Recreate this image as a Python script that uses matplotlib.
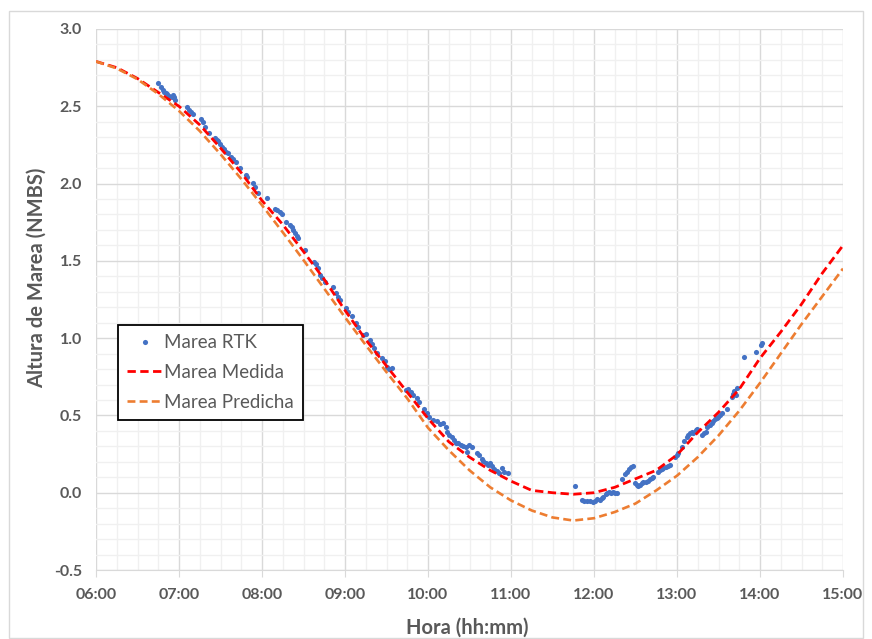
import matplotlib.pyplot as plt
import numpy as np
from matplotlib.patches import Rectangle
from matplotlib.ticker import MultipleLocator, FuncFormatter

plt.rcParams['font.family'] = ['Lato', 'DejaVu Sans']

GRAY = '#595959'

# tide curves, time in decimal hours
hora_curva = [6.0, 6.25, 6.5, 6.75, 7.0, 7.25, 7.5, 7.75, 8.0, 8.25, 8.5, 8.75,
              9.0, 9.25, 9.5, 9.75, 10.0, 10.25, 10.5, 10.75, 11.0, 11.25, 11.5,
              11.75, 12.0, 12.25, 12.5, 12.75, 13.0, 13.25, 13.5, 13.75, 14.0,
              14.25, 14.5, 14.75, 15.0]
marea_medida = [2.79, 2.75, 2.68, 2.59, 2.50, 2.38, 2.23, 2.07, 1.89, 1.735, 1.56, 1.38,
                1.18, 0.99, 0.82, 0.65, 0.48, 0.33, 0.23, 0.145, 0.075, 0.015, 0.0,
                -0.01, 0.0, 0.035, 0.09, 0.145, 0.245, 0.39, 0.52, 0.67, 0.87,
                1.04, 1.22, 1.42, 1.60]
marea_predicha = [2.79, 2.745, 2.675, 2.58, 2.47, 2.34, 2.19, 2.03, 1.86, 1.685, 1.505, 1.32,
                  1.135, 0.955, 0.78, 0.61, 0.42, 0.275, 0.145, 0.035, -0.05, -0.115, -0.16,
                  -0.18, -0.165, -0.125, -0.07, 0.015, 0.11, 0.23, 0.37, 0.53, 0.71,
                  0.90, 1.09, 1.27, 1.45]

# RTK observations
hora_rtk = [6.751, 6.779, 6.803, 6.819, 6.843, 6.859, 6.883, 6.912, 6.931, 6.943, 6.952,
            7.100, 7.124, 7.141, 7.165, 7.265, 7.285, 7.317, 7.365, 7.434, 7.454, 7.473,
            7.494, 7.514, 7.542, 7.566, 7.594, 7.623, 7.654, 7.687, 7.735, 7.807, 7.823,
            7.895, 7.916, 7.956, 8.057, 8.157, 8.185, 8.217, 8.245, 8.289, 8.337, 8.357,
            8.377, 8.398, 8.418, 8.437, 8.518, 8.627, 8.651, 8.671, 8.699, 8.719, 8.759,
            8.859, 8.892, 8.920, 8.940, 9.012, 9.040, 9.081, 9.133, 9.160, 9.213, 9.253,
            9.301, 9.329, 9.353, 9.382, 9.442, 9.482, 9.502, 9.534, 9.563, 9.735, 9.763,
            9.792, 9.823, 9.864, 9.896, 9.952, 9.984, 10.016, 10.057, 10.105, 10.145,
            10.184, 10.217, 10.225, 10.257, 10.285, 10.313, 10.337, 10.365, 10.394,
            10.426, 10.458, 10.474, 10.498, 10.526, 10.594, 10.618, 10.647, 10.667,
            10.695, 10.727, 10.747, 10.767, 10.795, 10.828, 10.859, 10.888, 10.916,
            10.968, 11.771, 11.851, 11.880, 11.912, 11.952, 11.992, 12.012, 12.040,
            12.072, 12.092, 12.112, 12.145, 12.161, 12.185, 12.201, 12.225, 12.253,
            12.281, 12.334, 12.373, 12.394, 12.422, 12.442, 12.466, 12.494, 12.514,
            12.534, 12.554, 12.574, 12.594, 12.627, 12.655, 12.675, 12.695, 12.715,
            12.775, 12.795, 12.815, 12.835, 12.867, 12.895, 12.916, 12.976, 12.996,
            13.016, 13.056, 13.084, 13.116, 13.136, 13.157, 13.177, 13.197, 13.229,
            13.245, 13.298, 13.325, 13.349, 13.365, 13.398, 13.418, 13.438, 13.458,
            13.478, 13.498, 13.518, 13.538, 13.598, 13.659, 13.679, 13.687, 13.711,
            13.727, 13.807, 13.952, 14.008, 14.024]
marea_rtk = [2.652, 2.622, 2.605, 2.594, 2.587, 2.579, 2.566, 2.561, 2.570, 2.557, 2.540,
             2.493, 2.475, 2.464, 2.450, 2.415, 2.400, 2.367, 2.329, 2.292, 2.281, 2.277,
             2.256, 2.234, 2.221, 2.206, 2.195, 2.169, 2.157, 2.141, 2.098, 2.055, 2.040,
             2.001, 1.979, 1.937, 1.904, 1.833, 1.829, 1.816, 1.801, 1.749, 1.732, 1.717,
             1.699, 1.678, 1.661, 1.646, 1.570, 1.494, 1.479, 1.451, 1.408, 1.387, 1.365,
             1.329, 1.290, 1.268, 1.246, 1.193, 1.171, 1.143, 1.096, 1.070, 1.020, 1.027,
             0.988, 0.962, 0.934, 0.906, 0.869, 0.854, 0.811, 0.798, 0.805, 0.664, 0.669,
             0.653, 0.632, 0.611, 0.589, 0.539, 0.514, 0.488, 0.470, 0.466, 0.444,
             0.453, 0.427, 0.395, 0.373, 0.358, 0.341, 0.323, 0.320, 0.309,
             0.302, 0.298, 0.265, 0.309, 0.298, 0.255, 0.244, 0.216, 0.207,
             0.190, 0.179, 0.194, 0.173, 0.151, 0.142, 0.129, 0.158, 0.136,
             0.129, 0.043, -0.047, -0.052, -0.054, -0.052, -0.058, -0.054, -0.043,
             -0.047, -0.036, -0.026, -0.008, 0.000, 0.006, 0.000, 0.006, 0.000,
             0.000, 0.087, 0.121, 0.136, 0.151, 0.168, 0.175, 0.061, 0.050,
             0.043, 0.050, 0.065, 0.071, 0.071, 0.078, 0.087, 0.093, 0.100,
             0.136, 0.147, 0.151, 0.158, 0.168, 0.173, 0.179, 0.233, 0.244,
             0.259, 0.298, 0.336, 0.362, 0.373, 0.384, 0.395, 0.388, 0.406,
             0.410, 0.373, 0.384, 0.395, 0.427, 0.438, 0.449, 0.466, 0.475,
             0.481, 0.492, 0.503, 0.514, 0.539, 0.621, 0.638, 0.660, 0.632,
             0.675, 0.876, 0.912, 0.955, 0.970]

x_ticks = list(range(6, 16))

fig = plt.figure(figsize=(8.72, 6.39), dpi=100)
ax = fig.add_axes([96/872, 1 - 570/639, (843 - 96)/872, (570 - 29)/639])

# outer chart border like the spreadsheet frame
fig.patches.append(Rectangle((9/872, 1/639), 854/872, 627/639, transform=fig.transFigure,
                             fill=False, edgecolor='#d9d9d9', lw=1))

ax.plot(hora_rtk, marea_rtk, ls='none', marker='o', ms=3.7, mew=0,
        color='#4472C4', label='Marea RTK', zorder=3)
ax.plot(hora_curva, marea_medida, color='#FF0000', lw=2.0, ls=(0, (3, 1.6)),
        label='Marea Medida', zorder=4)
ax.plot(hora_curva, marea_predicha, color='#ED7D31', lw=1.9, ls=(0, (3, 1.6)),
        label='Marea Predicha', zorder=5)

ax.set_xlim(6, 15)
ax.set_ylim(-0.5, 3.0)
ax.set_xticks(x_ticks)
ax.xaxis.set_major_formatter(FuncFormatter(lambda v, p: f"{int(round(v)):02d}:00"))
ax.xaxis.set_minor_locator(MultipleLocator(0.25))
ax.yaxis.set_major_locator(MultipleLocator(0.5))
ax.yaxis.set_minor_locator(MultipleLocator(0.1))
ax.yaxis.set_major_formatter(FuncFormatter(lambda v, p: f"{v:.1f}"))

ax.grid(which='major', color='#d9d9d9', lw=1.0, zorder=0)
ax.grid(which='minor', color='#f0f0f0', lw=1.0, zorder=0)
ax.set_axisbelow(True)

for s in ['top', 'right', 'left']:
    ax.spines[s].set_visible(False)
ax.spines['bottom'].set_color('#d9d9d9')

ax.tick_params(axis='x', which='major', length=5, color='#d9d9d9', pad=8,
               labelsize=11.5, labelcolor=GRAY)
ax.tick_params(axis='x', which='minor', length=0)
ax.tick_params(axis='y', which='both', length=0, pad=10, labelsize=11.5, labelcolor=GRAY)
for lab in ax.get_xticklabels() + ax.get_yticklabels():
    lab.set_fontweight('bold')

ax.set_xlabel('Hora (hh:mm)', fontsize=14.5, fontweight='bold', color=GRAY)
ax.set_ylabel('Altura de Marea (NMBS)', fontsize=14.5, fontweight='bold', color=GRAY)
ax.xaxis.set_label_coords(0.497, -0.088)
ax.yaxis.set_label_coords(-0.066, 0.54)

leg = ax.legend(loc='upper left', bbox_to_anchor=(0.0295, 0.453), fontsize=13.5,
                frameon=True, fancybox=False, edgecolor='black', framealpha=1,
                handlelength=1.9, handletextpad=0.05, labelspacing=0.68,
                borderpad=0.5, borderaxespad=0)
leg.get_frame().set_linewidth(1.3)
for t in leg.get_texts():
    t.set_color(GRAY)

fig.savefig('out.png', dpi=100)
